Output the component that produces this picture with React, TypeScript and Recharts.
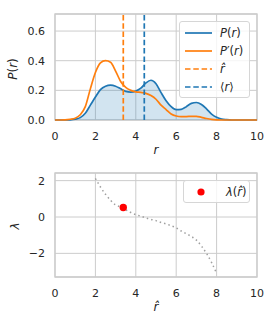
import React from 'react';
import {
  ComposedChart,
  Area,
  Line,
  Scatter,
  XAxis,
  YAxis,
  CartesianGrid,
  ReferenceLine,
  ReferenceArea,
} from 'recharts';

// top panel: radius grid and the two densities
const rValues = [
  0, 0.25, 0.5, 0.75, 1, 1.25, 1.5, 1.75, 2, 2.25, 2.5, 2.75, 3, 3.25, 3.5, 3.75, 4, 4.25, 4.5, 4.75,
  5, 5.25, 5.5, 5.75, 6, 6.25, 6.5, 6.75, 7, 7.25, 7.5, 7.75, 8, 8.25, 8.5, 8.75, 9, 9.25, 9.5, 9.75, 10,
];
const pValues = [
  0, 0, 0, 0.001, 0.005, 0.016, 0.045, 0.1, 0.155, 0.205, 0.228, 0.235, 0.228, 0.21, 0.193, 0.188,
  0.195, 0.215, 0.25, 0.268, 0.245, 0.185, 0.13, 0.09, 0.07, 0.072, 0.09, 0.112, 0.118, 0.105, 0.075,
  0.04, 0.018, 0.006, 0.002, 0, 0, 0, 0, 0, 0,
];
const ppValues = [
  0, 0, 0.001, 0.005, 0.012, 0.035, 0.09, 0.21, 0.32, 0.385, 0.4, 0.39, 0.33, 0.26, 0.22, 0.2, 0.19,
  0.186, 0.18, 0.165, 0.14, 0.1, 0.07, 0.04, 0.027, 0.023, 0.023, 0.025, 0.025, 0.018, 0.01, 0.004,
  0.001, 0, 0, 0, 0, 0, 0, 0, 0,
];
const rHat = 3.38;
const rMean = 4.42;

// bottom panel: lambda as function of r-hat
const rHatValues = [
  2, 2.25, 2.5, 2.75, 3, 3.25, 3.5, 3.75, 4, 4.25, 4.5, 4.75, 5, 5.25, 5.5, 5.75, 6, 6.25, 6.5, 6.75,
  7, 7.25, 7.5, 7.75, 8,
];
const lambdaValues = [
  2.12, 1.65, 1.25, 0.92, 0.66, 0.55, 0.4, 0.25, 0.13, 0.05, -0.05, -0.13, -0.2, -0.3, -0.38, -0.48,
  -0.6, -0.77, -0.92, -1.07, -1.27, -1.6, -2.0, -2.5, -3.1,
];
const lambdaAtRHat = 0.52;

const xTicks = [0, 2, 4, 6, 8, 10];
const topYTicks = [0, 0.2, 0.4, 0.6];
const bottomYTicks = [-2, 0, 2];

const BLUE = '#1f77b4';
const ORANGE = '#ff7f0e';
const GRID = '#cccccc';
const FONT = 'DejaVu Sans';
const tickStyle = { fill: '#262626', fontSize: 11, fontFamily: FONT };

const topData = rValues.map((x, i) => ({ x, p: pValues[i], pp: ppValues[i] }));
const curveData = rHatValues.map((x, i) => ({ x, y: lambdaValues[i] }));
const dotData = [{ x: rHat, y: lambdaAtRHat }];

const I = ({ children }: { children: React.ReactNode }) => <span style={{ fontStyle: 'italic' }}>{children}</span>;

function LegendRow({ color, dashed, dot, children }: any) {
  return (
    <div style={{ display: 'flex', alignItems: 'center', height: 18 }}>
      <svg width={30} height={10} style={{ flex: 'none' }}>
        {dot ? (
          <circle cx={17} cy={5} r={3.6} fill="red" />
        ) : (
          <line x1={3} y1={5} x2={30} y2={5} stroke={color} strokeWidth={1.7} strokeDasharray={dashed ? '5.5 2.8' : undefined} />
        )}
      </svg>
      <span style={{ marginLeft: dot ? 12 : 8, whiteSpace: 'nowrap' }}>{children}</span>
    </div>
  );
}

export default function App() {
  return (
    <div
      style={{
        position: 'absolute',
        left: 0,
        top: 0,
        width: 273,
        height: 327,
        background: '#fff',
        fontFamily: FONT,
        color: '#262626',
      }}
    >
      <ComposedChart width={273} height={165} data={topData} margin={{ top: 14, right: 16, bottom: 15, left: 10 }}>
        <CartesianGrid stroke={GRID} strokeWidth={1} />
        <XAxis
          type="number"
          dataKey="x"
          domain={[0, 10]}
          ticks={xTicks}
          axisLine={false}
          tickLine={false}
          tickSize={0}
          tickMargin={12}
          height={30}
          tick={tickStyle}
        />
        <YAxis
          type="number"
          domain={[0, 0.715]}
          ticks={topYTicks}
          axisLine={false}
          tickLine={false}
          tickSize={0}
          tickMargin={10}
          width={45}
          tick={tickStyle}
          tickFormatter={(v: number) => v.toFixed(1)}
        />
        <ReferenceArea x1={0} x2={10} y1={0} y2={0.715} fill="none" stroke={GRID} strokeWidth={1.3} />
        <Area
          type="monotone"
          dataKey="p"
          stroke={BLUE}
          strokeWidth={1.7}
          fill={BLUE}
          fillOpacity={0.2}
          isAnimationActive={false}
          dot={false}
          activeDot={false}
        />
        <Line type="monotone" dataKey="pp" stroke={ORANGE} strokeWidth={1.7} dot={false} isAnimationActive={false} />
        <ReferenceLine x={rHat} stroke={ORANGE} strokeWidth={1.7} strokeDasharray="5.5 2.8" />
        <ReferenceLine x={rMean} stroke={BLUE} strokeWidth={1.7} strokeDasharray="5.5 2.8" />
      </ComposedChart>

      <ComposedChart
        width={273}
        height={162}
        data={curveData}
        margin={{ top: 8, right: 16, bottom: 20, left: 10 }}
        style={{ position: 'absolute', left: 0, top: 165 }}
      >
        <CartesianGrid stroke={GRID} strokeWidth={1} />
        <XAxis
          type="number"
          dataKey="x"
          domain={[0, 10]}
          ticks={xTicks}
          axisLine={false}
          tickLine={false}
          tickSize={0}
          tickMargin={12}
          height={30}
          tick={tickStyle}
        />
        <YAxis
          type="number"
          domain={[-3.3, 2.42]}
          ticks={bottomYTicks}
          axisLine={false}
          tickLine={false}
          tickSize={0}
          tickMargin={10}
          width={45}
          tick={tickStyle}
          tickFormatter={(v: number) => (v < 0 ? '\u2212' + Math.abs(v) : String(v))}
        />
        <ReferenceArea x1={0} x2={10} y1={-3.3} y2={2.42} fill="none" stroke={GRID} strokeWidth={1.3} />
        <Line
          type="monotone"
          dataKey="y"
          stroke="#a0a0a0"
          strokeWidth={1.5}
          strokeDasharray="1.5 3"
          dot={false}
          isAnimationActive={false}
        />
        <Scatter
          data={dotData}
          dataKey="y"
          isAnimationActive={false}
          shape={(p: any) => <circle cx={p.cx} cy={p.cy} r={3.7} fill="red" />}
        />
      </ComposedChart>

      {/* axis labels */}
      <div style={{ position: 'absolute', left: 13, top: 69, fontSize: 12, transform: 'translate(-50%, -50%) rotate(-90deg)', whiteSpace: 'nowrap' }}>
        <I>P</I>(<I>r</I>)
      </div>
      <div style={{ position: 'absolute', left: 156, top: 150, fontSize: 12, transform: 'translate(-50%, -50%)' }}>
        <I>r</I>
      </div>
      <div style={{ position: 'absolute', left: 15, top: 226, fontSize: 12, transform: 'translate(-50%, -50%) rotate(-90deg)' }}>
        <I>λ</I>
      </div>
      <div style={{ position: 'absolute', left: 156, top: 307, fontSize: 12, transform: 'translate(-50%, -50%)' }}>
        <I>r̂</I>
      </div>

      {/* legends */}
      <div
        style={{
          position: 'absolute',
          left: 179,
          top: 21,
          width: 71,
          height: 77,
          boxSizing: 'border-box',
          border: '1px solid #d6d6d6',
          borderRadius: 3,
          background: 'rgba(255,255,255,0.8)',
          fontSize: 11.5,
          padding: '2px 0 0 2px',
        }}
      >
        <LegendRow color={BLUE}>
          <I>P</I>(<I>r</I>)
        </LegendRow>
        <LegendRow color={ORANGE}>
          <I>P</I>′(<I>r</I>)
        </LegendRow>
        <LegendRow color={ORANGE} dashed>
          <I>r̂</I>
        </LegendRow>
        <LegendRow color={BLUE} dashed>
          ⟨<I>r</I>⟩
        </LegendRow>
      </div>
      <div
        style={{
          position: 'absolute',
          left: 183,
          top: 180,
          width: 67,
          height: 23,
          boxSizing: 'border-box',
          border: '1px solid #d6d6d6',
          borderRadius: 3,
          background: 'rgba(255,255,255,0.8)',
          fontSize: 11.5,
          padding: '2px 0 0 0',
        }}
      >
        <LegendRow dot>
          <I>λ</I>(<I>r̂</I>)
        </LegendRow>
      </div>
    </div>
  );
}
